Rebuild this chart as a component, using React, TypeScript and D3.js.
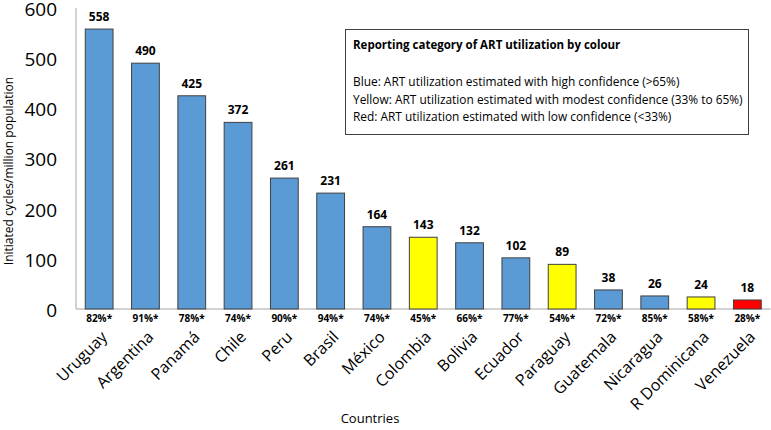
import { useEffect, useRef } from "react";
import * as d3 from "d3";

const countries = ["Uruguay", "Argentina", "Panamá", "Chile", "Peru", "Brasil", "México", "Colombia", "Bolivia", "Ecuador", "Paraguay", "Guatemala", "Nicaragua", "R Dominicana", "Venezuela"];
const cycles = [558, 490, 425, 372, 261, 231, 164, 143, 132, 102, 89, 38, 26, 24, 18];
const coverage = ["82%*", "91%*", "78%*", "74%*", "90%*", "94%*", "74%*", "45%*", "66%*", "77%*", "54%*", "72%*", "85%*", "58%*", "28%*"];
const category = ["blue", "blue", "blue", "blue", "blue", "blue", "blue", "yellow", "blue", "blue", "yellow", "blue", "blue", "yellow", "red"];
const yTicks = [0, 100, 200, 300, 400, 500, 600];
const legendLines = [
    "Blue: ART utilization estimated with high confidence (>65%)",
    "Yellow: ART utilization estimated with modest confidence (33% to 65%)",
    "Red: ART utilization estimated with low confidence (<33%)",
];

const colors: Record<string, string> = { blue: "#5B9BD5", yellow: "#FFFF00", red: "#FF0000" };

export default function App() {
    const svgRef = useRef<SVGSVGElement | null>(null);

    useEffect(() => {
        if (!svgRef.current) return;
        const svg = d3.select(svgRef.current);
        svg.selectAll("*").remove();

        const font = "'Open Sans', sans-serif";
        const left = 76;
        const right = 770.5;

        const x = d3.scaleBand().domain(countries).range([left, right]).paddingInner(0.4).paddingOuter(0.2);
        const y = d3.scaleLinear().domain([0, 600]).range([309, 8]);

        // axes lines
        svg.append("line").attr("x1", left).attr("x2", left).attr("y1", y(600)).attr("y2", y(0)).attr("stroke", "#a6a6a6");
        svg.append("line").attr("x1", left).attr("x2", right).attr("y1", y(0)).attr("y2", y(0)).attr("stroke", "#a6a6a6");

        // y tick labels
        svg.selectAll(".ytick")
            .data(yTicks)
            .enter()
            .append("text")
            .attr("x", 57)
            .attr("y", (d) => y(d) + 1)
            .attr("dy", "0.36em")
            .attr("text-anchor", "end")
            .attr("font-family", font)
            .attr("font-size", "19px")
            .attr("fill", "#000")
            .text((d) => d);

        const data = countries.map((c, i) => ({ c, v: cycles[i], p: coverage[i], k: category[i] }));

        // bars
        svg.selectAll(".bar")
            .data(data)
            .enter()
            .append("rect")
            .attr("x", (d) => x(d.c) || 0)
            .attr("y", (d) => y(d.v))
            .attr("width", x.bandwidth())
            .attr("height", (d) => y(0) - y(d.v))
            .attr("fill", (d) => colors[d.k])
            .attr("stroke", "#404040")
            .attr("stroke-width", 1);

        // value labels
        svg.selectAll(".val")
            .data(data)
            .enter()
            .append("text")
            .attr("x", (d) => (x(d.c) || 0) + x.bandwidth() / 2)
            .attr("y", (d) => y(d.v) - 8)
            .attr("text-anchor", "middle")
            .attr("font-family", font)
            .attr("font-weight", "bold")
            .attr("font-size", "12px")
            .text((d) => d.v);

        // percentage labels
        svg.selectAll(".pct")
            .data(data)
            .enter()
            .append("text")
            .attr("x", (d) => (x(d.c) || 0) + x.bandwidth() / 2)
            .attr("y", 322)
            .attr("text-anchor", "middle")
            .attr("font-family", font)
            .attr("font-weight", "bold")
            .attr("font-size", "10px")
            .text((d) => d.p);

        // country labels
        svg.selectAll(".cat")
            .data(data)
            .enter()
            .append("text")
            .attr("transform", (d) => `translate(${(x(d.c) || 0) + x.bandwidth() / 2 + 9},${338}) rotate(-45)`)
            .attr("text-anchor", "end")
            .attr("font-family", font)
            .attr("font-size", "16px")
            .text((d) => d.c);

        // axis titles
        svg.append("text")
            .attr("x", 370)
            .attr("y", 423)
            .attr("text-anchor", "middle")
            .attr("font-family", font)
            .attr("font-size", "13px")
            .text("Countries");

        svg.append("text")
            .attr("transform", `translate(13,${171}) rotate(-90)`)
            .attr("text-anchor", "middle")
            .attr("font-family", font)
            .attr("font-size", "12px")
            .text("Initiated cycles/million population");

        // legend box
        const lg = svg.append("g");
        lg.append("rect")
            .attr("x", 345.5)
            .attr("y", 29.5)
            .attr("width", 403)
            .attr("height", 105)
            .attr("fill", "#fff")
            .attr("stroke", "#404040");
        lg.append("text")
            .attr("x", 353)
            .attr("y", 49)
            .attr("font-family", font)
            .attr("font-weight", "bold")
            .attr("font-size", "11.5px")
            .text("Reporting category of ART utilization by colour");
        lg.selectAll(".ll")
            .data(legendLines)
            .enter()
            .append("text")
            .attr("x", 353)
            .attr("y", (_, i) => 86 + i * 17.5)
            .attr("font-family", font)
            .attr("font-size", "11.9px")
            .text((d) => d);
    }, []);

    return (
        <svg
            ref={svgRef}
            width={771}
            height={430}
            style={{ display: "block", position: "absolute", left: 0, top: 0, background: "#fff" }}
        />
    );
}
